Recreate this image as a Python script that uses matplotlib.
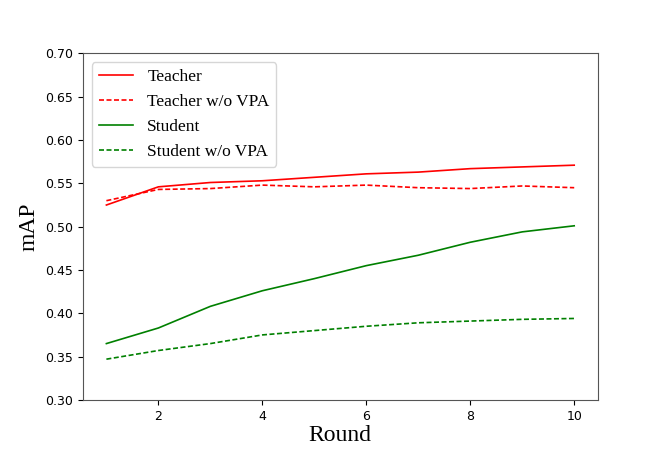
import matplotlib
matplotlib.use('Agg')
import matplotlib.pyplot as plt

rounds = [1, 2, 3, 4, 5, 6, 7, 8, 9, 10]
teacher = [0.525, 0.546, 0.551, 0.553, 0.557, 0.561, 0.563, 0.567, 0.569, 0.571]
teacher_wo = [0.530, 0.543, 0.544, 0.548, 0.546, 0.548, 0.545, 0.544, 0.547, 0.545]
student = [0.365, 0.383, 0.408, 0.426, 0.440, 0.455, 0.467, 0.482, 0.494, 0.501]
student_wo = [0.347, 0.357, 0.365, 0.375, 0.380, 0.385, 0.389, 0.391, 0.393, 0.394]

fig = plt.figure(figsize=(6.64, 4.57), dpi=100)
ax = fig.add_axes([0.125, 0.125, 0.775, 0.758])

ax.plot(rounds, teacher, color='red', linestyle='-', lw=1.2, label='Teacher')
ax.plot(rounds, teacher_wo, color='red', linestyle='--', lw=1.2, dashes=(3, 1.5), label='Teacher w/o VPA')
ax.plot(rounds, student, color='green', linestyle='-', lw=1.2, label='Student')
ax.plot(rounds, student_wo, color='green', linestyle='--', lw=1.2, dashes=(3, 1.5), label='Student w/o VPA')

ax.set_ylim(0.30, 0.70)
ax.set_xticks([2, 4, 6, 8, 10])
ax.set_yticks([0.30, 0.35, 0.40, 0.45, 0.50, 0.55, 0.60, 0.65, 0.70])
ax.tick_params(labelsize=9)
for s in ax.spines.values():
    s.set_color('#555555')

ax.set_xlabel('Round', fontsize=17, family='Liberation Serif', labelpad=2)
ax.set_ylabel('mAP', fontsize=17, family='Liberation Serif')
ax.legend(loc='upper left', prop={'family': 'Liberation Serif', 'size': 12.5})

fig.savefig('out.png', dpi=100)
